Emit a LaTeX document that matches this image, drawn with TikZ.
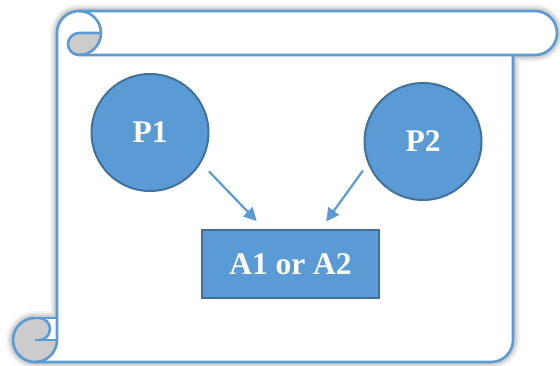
\documentclass[tikz,border=0pt]{standalone}
\usepackage{fontspec}
\setmainfont{Liberation Serif}
\usetikzlibrary{arrows.meta,shadows.blur,calc}
\definecolor{scrollblue}{HTML}{5B9BD5}
\definecolor{edgeblue}{HTML}{41719C}
\definecolor{curlgray}{HTML}{CCCCCC}

\begin{document}
\begin{tikzpicture}[x=1pt,y=1pt,
  scrollline/.style={draw=scrollblue, line width=2.6pt, line join=round},
  bubble/.style={circle, fill=scrollblue, draw=edgeblue, line width=2pt,
    minimum size=117pt, inner sep=0pt, text=white,
    font=\fontsize{31.5}{36}\selectfont\bfseries},
  choice/.style={rectangle, fill=scrollblue, draw=edgeblue, line width=2pt,
    minimum width=177pt, minimum height=68pt, inner sep=0pt, text=white,
    font=\fontsize{31.5}{36}\selectfont\bfseries},
  link/.style={draw=scrollblue, line width=2.2pt,
    -{Triangle[length=13pt,width=13pt]}}
]
\useasboundingbox (0,0) rectangle (560,-365);

% scroll silhouette with soft shadow
\path[fill=white, blur shadow={shadow xshift=0pt, shadow yshift=0pt,
    shadow blur radius=7pt, shadow opacity=60}]
  (79,-11) -- (535,-11) arc[start angle=90,end angle=-90,radius=22]
  -- (513,-55) -- (513,-340) arc[start angle=0,end angle=-90,radius=22]
  -- (35,-362) arc[start angle=-90,end angle=-270,radius=22]
  -- (57,-318) -- (57,-33) arc[start angle=180,end angle=90,radius=22] -- cycle;

% grey insides of the two curls
\fill[curlgray] (79,-33) -- (101,-33) arc[start angle=0,end angle=-90,radius=22]
  arc[start angle=270,end angle=90,radius=11] -- cycle;
\fill[curlgray] (57,-340) arc[start angle=0,end angle=-270,radius=22]
  -- (39,-318) arc[start angle=90,end angle=-90,radius=11] -- cycle;

% outlines: top roll
\draw[scrollline] (79,-11) -- (535,-11) arc[start angle=90,end angle=-90,radius=22] -- (79,-55);
\draw[scrollline] (57,-340) -- (57,-33) arc[start angle=180,end angle=-90,radius=22];
\draw[scrollline] (101,-33) -- (79,-33) arc[start angle=90,end angle=270,radius=11];
% outlines: sheet and bottom roll
\draw[scrollline] (513,-55) -- (513,-340) arc[start angle=0,end angle=-90,radius=22] -- (35,-362);
\draw[scrollline] (35,-318) arc[start angle=90,end angle=360,radius=22];
\draw[scrollline] (35,-318) -- (57,-318);
\draw[scrollline] (35,-340) -- (57,-340);
\draw[scrollline] (39,-318) arc[start angle=90,end angle=-90,radius=11];

% nodes
\node[bubble] (p1) at (150,-132.5) {P1};
\node[bubble] (p2) at (423,-141.5) {P2};
\node[choice] (box) at (290.5,-264) {A1 or A2};

% connectors
\draw[link, shorten <=11.5pt, shorten >=11pt]
  (p1.-31) -- ($(box.north west)!0.354!(box.north east)$);
\draw[link, shorten <=8.3pt, shorten >=9.3pt]
  (p2.202.85) -- ($(box.north west)!0.669!(box.north east)$);
\end{tikzpicture}
\end{document}
